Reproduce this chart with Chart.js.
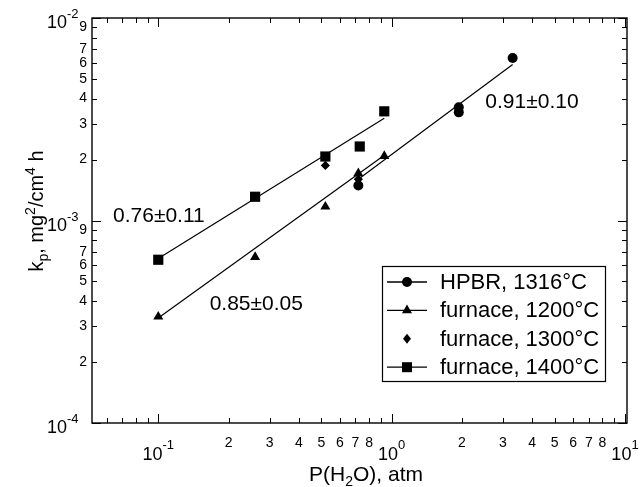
<!DOCTYPE html>
<html>
<head>
<meta charset="utf-8">
<script src="https://cdn.jsdelivr.net/npm/chart.js@4.4.1/dist/chart.umd.min.js"></script>
<style>
  html, body { margin: 0; padding: 0; background: #fff; }
  #wrap { width: 643px; height: 487px; position: relative; }
</style>
</head>
<body>
<div id="wrap"><canvas id="kpChart"></canvas></div>
<script>
// P(H2O) in atm, kp in mg^2/cm^4 h
const hpbrP = [0.72, 1.94, 1.94, 3.3];
const hpbrKp = [1.49e-3, 3.62e-3, 3.42e-3, 6.34e-3];
const f1200P = [0.1, 0.26, 0.52, 0.72, 0.93];
const f1200Kp = [3.35e-4, 6.6e-4, 1.17e-3, 1.71e-3, 2.08e-3];
const f1300P = [0.52, 0.72];
const f1300Kp = [1.87e-3, 1.6e-3];
const f1400P = [0.1, 0.26, 0.52, 0.73, 0.93];
const f1400Kp = [6.4e-4, 1.31e-3, 2.07e-3, 2.32e-3, 3.46e-3];

// power-law fits, end points
const fitHpbrP = [0.72, 3.3];
const fitHpbrKp = [1.6e-3, 5.9e-3];
const fit1200P = [0.1, 0.93];
const fit1200Kp = [3.3e-4, 2.1e-3];
const fit1400P = [0.1, 0.93];
const fit1400Kp = [6.5e-4, 3.2e-3];

const seriesNames = ['HPBR, 1316°C', 'furnace, 1200°C', 'furnace, 1300°C', 'furnace, 1400°C'];
const slopeTexts = ['0.76±0.11', '0.85±0.05', '0.91±0.10'];
const slopeP = [0.064, 0.166, 2.52];
const slopeKp = [1.05e-3, 3.87e-4, 3.85e-3];

// axis range and tick labels
const xMin = 0.052, xMax = 10.2;
const yMin = 1e-4, yMax = 1e-2;
const xDecades = [-1, 0, 1];
const yDecades = [-4, -3, -2];
const xMinorLabels = [2, 3, 4, 5, 6, 7, 8];
const yMinorLabels = [2, 3, 4, 5, 6, 7, 9];

const FONT = '"Liberation Sans", Arial, Helvetica, sans-serif';

const pts = (xs, ys) => xs.map((v, i) => ({ x: v, y: ys[i] }));

function logTicks(min, max) {
    const out = [];
    for (let d = Math.floor(Math.log10(min)); d <= Math.ceil(Math.log10(max)); d++) {
        for (let m = 1; m <= 9; m++) {
            const v = m * Math.pow(10, d);
            if (v >= min * 0.999 && v <= max * 1.001) out.push({ value: v, m: m, d: d });
        }
    }
    return out;
}

// text with sub / superscripts: parts = [[text, shift]], shift 1 = sup, -1 = sub
function drawRich(ctx, parts, x, y, size, align, small, supDy) {
    small = small || Math.round(size * 0.7);
    supDy = supDy || size * 0.42;
    let w = 0;
    parts.forEach(p => {
        ctx.font = (p[1] ? small : size) + 'px ' + FONT;
        w += ctx.measureText(p[0]).width;
    });
    let cx = align === 'center' ? x - w / 2 : align === 'right' ? x - w : x;
    ctx.textAlign = 'left';
    ctx.textBaseline = 'alphabetic';
    parts.forEach(p => {
        ctx.font = (p[1] ? small : size) + 'px ' + FONT;
        const dy = p[1] === 1 ? -supDy : p[1] === -1 ? size * 0.25 : 0;
        ctx.fillText(p[0], cx, y + dy);
        cx += ctx.measureText(p[0]).width;
    });
}

function marker(ctx, style, x, y) {
    ctx.beginPath();
    if (style === 'circle') {
        ctx.arc(x, y, 5, 0, Math.PI * 2);
    } else if (style === 'triangle') {
        ctx.moveTo(x, y - 5.8); ctx.lineTo(x + 5, y + 2.9); ctx.lineTo(x - 5, y + 2.9);
    } else if (style === 'rectRot') {
        ctx.moveTo(x, y - 5); ctx.lineTo(x + 4, y); ctx.lineTo(x, y + 5); ctx.lineTo(x - 4, y);
    } else {
        ctx.rect(x - 5, y - 5, 10, 10);
    }
    ctx.closePath();
    ctx.fill();
}

const framePlugin = {
    id: 'frame',
    afterDatasetsDraw(chart) {
        const { ctx, chartArea: a, scales: { x, y } } = chart;
        ctx.save();
        ctx.strokeStyle = '#000';
        ctx.fillStyle = '#000';
        ctx.lineWidth = 1.4;
        ctx.strokeRect(a.left, a.top, a.right - a.left, a.bottom - a.top);

        // inward ticks on all four sides
        ctx.lineWidth = 1;
        ctx.beginPath();
        x.ticks.forEach(t => {
            const px = Math.round(x.getPixelForValue(t.value)) + 0.5;
            const len = t.m === 1 ? 9 : 5;
            ctx.moveTo(px, a.bottom); ctx.lineTo(px, a.bottom - len);
            ctx.moveTo(px, a.top); ctx.lineTo(px, a.top + len);
        });
        y.ticks.forEach(t => {
            const py = Math.round(y.getPixelForValue(t.value)) + 0.5;
            const len = t.m === 1 ? 9 : 5;
            ctx.moveTo(a.left, py); ctx.lineTo(a.left + len, py);
            ctx.moveTo(a.right, py); ctx.lineTo(a.right - len, py);
        });
        ctx.stroke();

        // decade labels 10^n
        xDecades.forEach(d => {
            const px = x.getPixelForValue(Math.pow(10, d));
            drawRich(ctx, [['10', 0], [String(d), 1]], px, 460, 18, 'center', 13, 11);
        });
        yDecades.forEach(d => {
            const py = y.getPixelForValue(Math.pow(10, d));
            ctx.font = '18px ' + FONT;
            ctx.textAlign = 'right';
            ctx.textBaseline = 'alphabetic';
            ctx.fillText('10', a.left - 25, py + 10);
            ctx.font = '13px ' + FONT;
            ctx.textAlign = 'left';
            ctx.fillText(String(d), a.left - 25, py);
        });

        // axis titles
        drawRich(ctx, [['P(H', 0], ['2', -1], ['O), atm', 0]], 366, 481, 21, 'center', 14);
        ctx.save();
        ctx.translate(43, 211);
        ctx.rotate(-Math.PI / 2);
        drawRich(ctx, [['k', 0], ['p', -1], [', mg', 0], ['2', 1], ['/cm', 0], ['4', 1], [' h', 0]], 0, 0, 20, 'center', 14);
        ctx.restore();

        // slope annotations
        slopeTexts.forEach((s, i) => {
            ctx.font = '21px ' + FONT;
            ctx.textAlign = 'left';
            ctx.textBaseline = 'middle';
            ctx.fillText(s, x.getPixelForValue(slopeP[i]), y.getPixelForValue(slopeKp[i]));
        });

        // legend
        const lx = 382.5, ly = 266.5, lw = 223, lh = 115;
        ctx.fillStyle = '#fff';
        ctx.fillRect(lx, ly, lw, lh);
        ctx.lineWidth = 1.2;
        ctx.strokeRect(lx, ly, lw, lh);
        ctx.fillStyle = '#000';
        const markerDs = chart.data.datasets.filter(ds => !ds.isFit);
        markerDs.forEach((ds, i) => {
            const ey = 282 + i * 28.4;
            if (ds.legendLine) {
                ctx.lineWidth = 1.3;
                ctx.beginPath();
                ctx.moveTo(387, ey); ctx.lineTo(427, ey);
                ctx.stroke();
            }
            marker(ctx, ds.pointStyle, 407, ey);
            ctx.font = '22px ' + FONT;
            ctx.textAlign = 'left';
            ctx.textBaseline = 'middle';
            ctx.fillText(ds.label, 440, ey + 1);
        });
        ctx.restore();
    }
};

const fitStyle = {
    isFit: true, showLine: true, pointRadius: 0, borderColor: '#000',
    borderWidth: 1.2, fill: false
};
const markStyle = { backgroundColor: '#000', borderColor: '#000', borderWidth: 0, showLine: false };

new Chart(document.getElementById('kpChart'), {
    type: 'scatter',
    data: {
        datasets: [
            { ...markStyle, label: seriesNames[0], data: pts(hpbrP, hpbrKp), pointStyle: 'circle', pointRadius: 5, legendLine: true },
            { ...markStyle, label: seriesNames[1], data: pts(f1200P, f1200Kp), pointStyle: 'triangle', pointRadius: 5.8, legendLine: true },
            { ...markStyle, label: seriesNames[2], data: pts(f1300P, f1300Kp), pointStyle: 'rectRot', pointRadius: 4.6, legendLine: false },
            { ...markStyle, label: seriesNames[3], data: pts(f1400P, f1400Kp), pointStyle: 'rect', pointRadius: 7.2, legendLine: true },
            { ...fitStyle, label: 'fit HPBR', data: pts(fitHpbrP, fitHpbrKp) },
            { ...fitStyle, label: 'fit 1200', data: pts(fit1200P, fit1200Kp) },
            { ...fitStyle, label: 'fit 1400', data: pts(fit1400P, fit1400Kp) }
        ]
    },
    options: {
        responsive: true,
        maintainAspectRatio: false,
        animation: false,
        layout: { padding: { top: 18, right: 16, left: 0, bottom: 0 } },
        plugins: { legend: { display: false }, tooltip: { enabled: false } },
        scales: {
            x: {
                type: 'logarithmic', min: xMin, max: xMax, bounds: 'data',
                grid: { display: false, drawTicks: false },
                border: { display: false },
                afterBuildTicks: s => { s.ticks = logTicks(xMin, xMax); },
                afterFit: s => { s.height = 64; },
                ticks: {
                    autoSkip: false, maxRotation: 0, minRotation: 0, padding: 12,
                    color: '#000', font: { family: FONT, size: 14 },
                    callback: (v, i, t) => (t[i].d >= xDecades[0] && t[i].m !== 1 && xMinorLabels.includes(t[i].m)) ? String(t[i].m) : ''
                }
            },
            y: {
                type: 'logarithmic', min: yMin, max: yMax, bounds: 'data',
                grid: { display: false, drawTicks: false },
                border: { display: false },
                afterBuildTicks: s => { s.ticks = logTicks(yMin, yMax); },
                afterFit: s => { s.width = 92; },
                ticks: {
                    autoSkip: false, padding: 5,
                    color: '#000', font: { family: FONT, size: 14 },
                    callback: (v, i, t) => (t[i].m !== 1 && yMinorLabels.includes(t[i].m)) ? String(t[i].m) : ''
                }
            }
        }
    },
    plugins: [framePlugin]
});
</script>
</body>
</html>
